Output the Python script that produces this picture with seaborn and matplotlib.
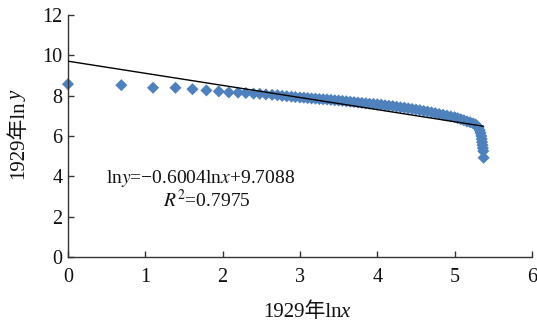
import numpy as np
import pandas as pd
import matplotlib
matplotlib.use('Agg')
import matplotlib.pyplot as plt
import seaborn as sns

# 数据：1929年 位序-规模 (ln x, ln y)
ln_rank = [0.00, 0.69, 1.10, 1.39, 1.61, 1.79, 1.95, 2.08, 2.20, 2.30,
           2.40, 2.48, 2.56, 2.64, 2.71, 2.77, 2.83, 2.89, 2.94, 3.00,
           3.05, 3.10, 3.15, 3.20, 3.25, 3.30, 3.35, 3.40, 3.45, 3.50,
           3.55, 3.60, 3.65, 3.70, 3.75, 3.80, 3.85, 3.90, 3.95, 4.00,
           4.05, 4.10, 4.15, 4.20, 4.25, 4.30, 4.35, 4.40, 4.45, 4.50,
           4.55, 4.60, 4.65, 4.70, 4.75, 4.80, 4.85, 4.90, 4.95, 5.00,
           5.04, 5.08, 5.12, 5.16, 5.20, 5.24, 5.27, 5.29, 5.31, 5.325,
           5.335, 5.345, 5.35, 5.355, 5.36, 5.365, 5.37, 5.375]
ln_size = [8.57, 8.52, 8.39, 8.39, 8.32, 8.26, 8.21, 8.16, 8.15, 8.13,
           8.10, 8.09, 8.06, 8.04, 8.02, 7.99, 7.97, 7.95, 7.93, 7.91,
           7.90, 7.88, 7.86, 7.85, 7.83, 7.82, 7.81, 7.79, 7.77, 7.76,
           7.74, 7.72, 7.70, 7.68, 7.66, 7.64, 7.62, 7.60, 7.59, 7.57,
           7.55, 7.52, 7.50, 7.48, 7.45, 7.42, 7.40, 7.37, 7.34, 7.31,
           7.28, 7.24, 7.21, 7.17, 7.13, 7.09, 7.05, 7.01, 6.97, 6.93,
           6.88, 6.83, 6.78, 6.72, 6.68, 6.62, 6.57, 6.50, 6.40, 6.28,
           6.15, 6.00, 5.85, 5.70, 5.55, 5.40, 5.25, 4.92]

# 趋势线系数（图中公式）
slope = -0.6004
intercept = 9.7088
r2 = 0.7975

x_ticks = [0, 1, 2, 3, 4, 5, 6]
y_ticks = [0, 2, 4, 6, 8, 10, 12]

FAMILY = ['Liberation Serif', 'Noto Sans CJK SC']

sns.set_style('ticks')
plt.rcParams['font.family'] = FAMILY
plt.rcParams['mathtext.fontset'] = 'stix'
plt.rcParams['axes.unicode_minus'] = True

df = pd.DataFrame({'lnx': ln_rank, 'lny': ln_size})

fig = plt.figure(figsize=(5.37, 3.22), dpi=100)
ax = fig.add_axes([0.1266, 0.2019, 0.864, 0.7516])

sns.scatterplot(data=df, x='lnx', y='lny', marker='D', s=38, color='#4F81BD',
                edgecolor='none', linewidth=0, ax=ax, zorder=2, clip_on=False)

# 线性趋势线
x_line = np.array([0, max(ln_rank)])
ax.plot(x_line, intercept + slope * x_line, color='black', lw=1.0, zorder=3)

ax.set_xlim(0, 6)
ax.set_ylim(0, 12)
ax.set_xticks(x_ticks)
ax.set_yticks(y_ticks)
ax.set_xlabel('')
ax.set_ylabel('')
sns.despine(ax=ax)
for sp in ['left', 'bottom']:
    ax.spines[sp].set_color('#333333')
    ax.spines[sp].set_linewidth(1.0)
ax.tick_params(direction='in', length=4, width=1, color='#333333',
               labelsize=14.5, labelcolor='#111111')
ax.tick_params(axis='x', pad=8)
ax.tick_params(axis='y', pad=4)

ax.text(0.49, 3.67, 'ln$y$=\u22120.6004ln$x$+9.7088', fontsize=14,
        va='baseline', ha='left', color='#111111')
ax.text(1.23, 2.47, '$R^2$=%.4f' % r2, fontsize=14,
        va='baseline', ha='left', color='#111111')


def piece_label(cx, cy, parts, rotation=0, size=15):
    # 把"1929年ln"和斜体变量拼在一起
    texts = [fig.text(cx, cy, s, rotation=rotation, rotation_mode='anchor',
                      ha='left', va='baseline', fontsize=size, style=st,
                      color='#111111', family=FAMILY) for s, st in parts]
    fig.canvas.draw()
    r = fig.canvas.get_renderer()
    W, H = fig.bbox.width, fig.bbox.height
    if rotation == 0:
        lens = [t.get_window_extent(r).width - 1 for t in texts]
        pos = cx * W - sum(lens) / 2
        for t, l in zip(texts, lens):
            t.set_x(pos / W)
            pos += l
    else:
        lens = [t.get_window_extent(r).height - 1 for t in texts]
        pos = cy * H - sum(lens) / 2
        for t, l in zip(texts, lens):
            t.set_y(pos / H)
            pos += l


piece_label(0.5698, 0.0165, [('1929年ln', 'normal'), ('x', 'italic')])
piece_label(0.0428, 0.5776, [('1929年ln', 'normal'), ('y', 'italic')], rotation=90)

fig.savefig('out.png', dpi=100)
